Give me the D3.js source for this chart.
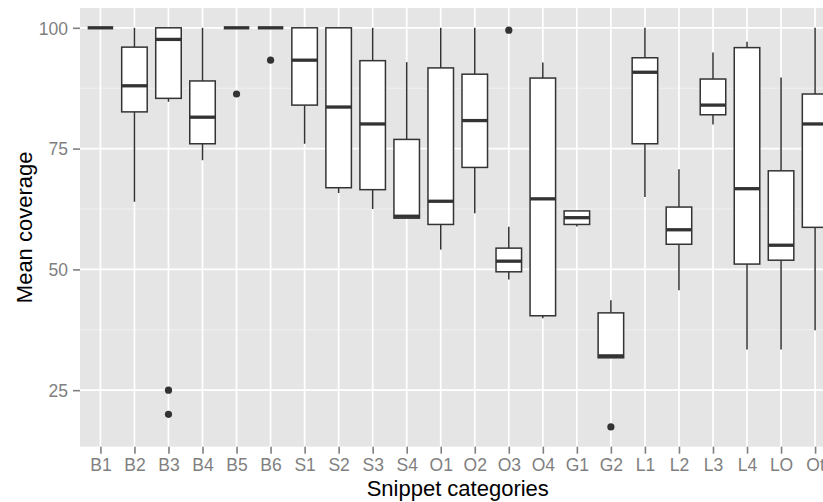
<!DOCTYPE html>
<html><head><meta charset="utf-8">
<script src="https://cdn.jsdelivr.net/npm/d3@7"></script>
<style>body{margin:0;background:#fff}svg{display:block;font-family:"Liberation Sans",Arial,Helvetica,sans-serif}</style>
</head><body><svg width="823" height="502"></svg>
<script>
const categories = ["B1","B2","B3","B4","B5","B6","S1","S2","S3","S4","O1","O2","O3","O4","G1","G2","L1","L2","L3","L4","LO","Ot"];
const whiskerLow = [100, 64.0, 84.7, 72.6, 100, 100, 76.0, 65.8, 62.5, 60.6, 54.1, 61.6, 47.9, 39.9, 58.9, 31.7, 65.0, 45.7, 80.0, 33.4, 33.4, 37.4];
const q1         = [100, 82.6, 85.4, 76.0, 100, 100, 84.0, 66.9, 66.5, 60.6, 59.3, 71.1, 49.5, 40.4, 59.3, 31.7, 76.0, 55.2, 82.0, 51.1, 51.9, 58.7];
const medians    = [100, 88.0, 97.6, 81.5, 100, 100, 93.3, 83.6, 80.1, 61.0, 64.1, 80.8, 51.7, 64.6, 60.7, 32.1, 90.8, 58.2, 84.0, 66.7, 55.0, 80.1];
const q3         = [100, 96.0, 100, 89.0, 100, 100, 100, 100, 93.2, 76.9, 91.7, 90.4, 54.4, 89.6, 62.1, 41.0, 93.8, 62.9, 89.4, 95.9, 70.4, 86.3];
const whiskerHigh= [100, 100, 100, 100, 100, 100, 100, 100, 100, 92.9, 100, 100, 58.8, 92.8, 62.1, 43.6, 100, 70.7, 94.9, 97.1, 89.7, 100];
const outlierCats = ["B3","B3","B5","B6","O3","G2"];
const outlierVals = [25.0, 20.0, 86.3, 93.3, 99.5, 17.4];
const yTicks = [25, 50, 75, 100];
const yMinor = [37.5, 62.5, 87.5];

const svg = d3.select("svg");
const pL = 80, pR = 835.5, pT = 8, pB = 446.7;
const x = d3.scalePoint().domain(categories).range([pL, pR]).padding(0.6);
const y = d3.scaleLinear().domain([13.3, 104.1]).range([pB, pT]);
const step = x.step();
const bw = step * 0.75;

svg.append("rect").attr("x", pL).attr("y", pT).attr("width", pR - pL).attr("height", pB - pT).attr("fill", "#E5E5E5");
svg.selectAll(".gminor").data(yMinor).enter().append("line")
  .attr("x1", pL).attr("x2", pR).attr("y1", d => y(d)).attr("y2", d => y(d))
  .attr("stroke", "#F2F2F2").attr("stroke-width", 0.9);
svg.selectAll(".gmajy").data(yTicks).enter().append("line")
  .attr("x1", pL).attr("x2", pR).attr("y1", d => y(d)).attr("y2", d => y(d))
  .attr("stroke", "#FFFFFF").attr("stroke-width", 1.7);
svg.selectAll(".gmajx").data(categories).enter().append("line")
  .attr("x1", d => x(d)).attr("x2", d => x(d)).attr("y1", pT).attr("y2", pB)
  .attr("stroke", "#FFFFFF").attr("stroke-width", 1.7);

// axes
const yAxis = d3.axisLeft(y).tickValues(yTicks).tickSize(7).tickPadding(5);
const gy = svg.append("g").attr("transform", `translate(${pL},0)`).call(yAxis);
const xAxis = d3.axisBottom(x).tickSize(7).tickPadding(5);
const gx = svg.append("g").attr("transform", `translate(0,${pB})`).call(xAxis);
[gy, gx].forEach(g => {
  g.select(".domain").remove();
  g.selectAll(".tick line").attr("stroke", "#7F7F7F").attr("stroke-width", 1.6);
  g.selectAll(".tick text").attr("fill", "#7F7F7F").attr("font-size", "17.5px").attr("font-family", '"Liberation Sans",Arial,sans-serif');
});
gy.selectAll(".tick text").attr("dy", "0.36em");
gx.selectAll(".tick text").attr("dy", "0.71em");

const boxColor = "#333333";
const g = svg.append("g");
categories.forEach((c, i) => {
  const cx = x(c);
  g.append("line").attr("x1", cx).attr("x2", cx).attr("y1", y(q3[i])).attr("y2", y(whiskerHigh[i]))
    .attr("stroke", boxColor).attr("stroke-width", 1.5);
  g.append("line").attr("x1", cx).attr("x2", cx).attr("y1", y(q1[i])).attr("y2", y(whiskerLow[i]))
    .attr("stroke", boxColor).attr("stroke-width", 1.5);
  g.append("rect").attr("x", cx - bw / 2).attr("width", bw)
    .attr("y", y(q3[i])).attr("height", Math.max(0, y(q1[i]) - y(q3[i])))
    .attr("fill", "#FFFFFF").attr("stroke", boxColor).attr("stroke-width", 1.5);
  g.append("line").attr("x1", cx - bw / 2).attr("x2", cx + bw / 2).attr("y1", y(medians[i])).attr("y2", y(medians[i]))
    .attr("stroke", boxColor).attr("stroke-width", 3.3);
});
g.selectAll(".out").data(outlierVals).enter().append("circle")
  .attr("cx", (d, i) => x(outlierCats[i])).attr("cy", d => y(d)).attr("r", 3.6).attr("fill", boxColor);

svg.append("text").attr("x", (pL + pR) / 2).attr("y", 496).attr("text-anchor", "middle")
  .attr("font-size", "22px").attr("fill", "#000").text("Snippet categories");
svg.append("text").attr("transform", `translate(31.5,${(pT + pB) / 2}) rotate(-90)`).attr("text-anchor", "middle")
  .attr("font-size", "22px").attr("fill", "#000").text("Mean coverage");
</script></body></html>
